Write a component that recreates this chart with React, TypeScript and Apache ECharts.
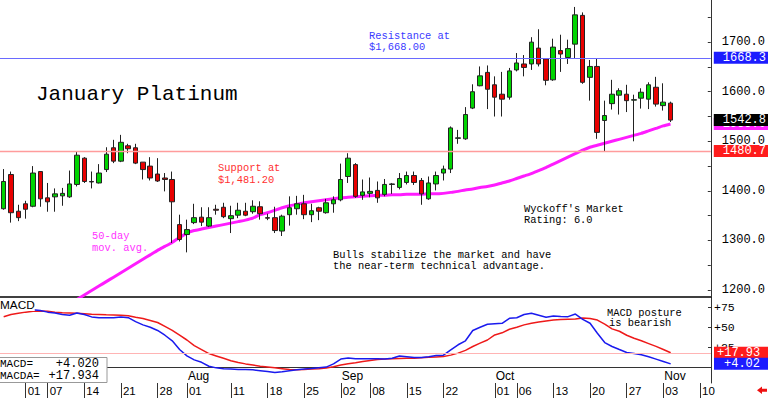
import React, { useEffect, useRef } from 'react';
import * as echarts from 'echarts';

const MONO = '"Liberation Mono", "DejaVu Sans Mono", monospace';
const SANS = '"Liberation Sans", Arial, sans-serif';

// trading days (2020), plus empty slots to the right edge
const dates = (
  '06-26 06-29 06-30 ' +
  '07-01 07-02 07-06 07-07 07-08 07-09 07-10 07-13 07-14 07-15 07-16 07-17 07-20 07-21 07-22 07-23 07-24 07-27 07-28 07-29 07-30 07-31 ' +
  '08-03 08-04 08-05 08-06 08-07 08-10 08-11 08-12 08-13 08-14 08-17 08-18 08-19 08-20 08-21 08-24 08-25 08-26 08-27 08-28 08-31 ' +
  '09-01 09-02 09-03 09-04 09-08 09-09 09-10 09-11 09-14 09-15 09-16 09-17 09-18 09-21 09-22 09-23 09-24 09-25 09-28 09-29 09-30 ' +
  '10-01 10-02 10-05 10-06 10-07 10-08 10-09 10-12 10-13 10-14 10-15 10-16 10-19 10-20 10-21 10-22 10-23 10-26 10-27 10-28 10-29 10-30 ' +
  '11-02 11-03 11-04 11-05 11-06 11-09 11-10 11-11'
).split(' ');

const dayTickDates = ['07-01', '07-07', '07-14', '07-21', '07-28', '08-03', '08-11', '08-18', '08-25', '09-01', '09-08', '09-15', '09-22', '10-01', '10-06', '10-13', '10-20', '10-27', '11-03', '11-10'];
const dayTickLabels = ['01', '07', '14', '21', '28', '01', '11', '18', '25', '02', '08', '15', '22', '01', '06', '13', '20', '27', '03', '10'];
const monthTickDates = ['08-03', '09-01', '10-01', '11-03'];
const monthTickLabels = ['Aug', 'Sep', 'Oct', 'Nov'];

const OPEN = [1364, 1433, 1359, 1374, 1369, 1439, 1386, 1388, 1390, 1388, 1413, 1466, 1419, 1416, 1443, 1487, 1460, 1491, 1487, 1458, 1450, 1434, 1426, 1423, 1332, 1312, 1336, 1347, 1329, 1363, 1367, 1344, 1351, 1359, 1358, 1368, 1346, 1346, 1319, 1352, 1364, 1374, 1352, 1366, 1356, 1374, 1382, 1429, 1453, 1391, 1395, 1401, 1393, 1413, 1407, 1417, 1431, 1421, 1384, 1414, 1436, 1444, 1506, 1505, 1567, 1612, 1639, 1614, 1595, 1589, 1644, 1656, 1656, 1688, 1666, 1624, 1683, 1669, 1696, 1754, 1629, 1651, 1542, 1576, 1593, 1595, 1583, 1587, 1585, 1609, 1572, 1577];
const CLOSE = [1419, 1356, 1346, 1363, 1436, 1384, 1378, 1394, 1395, 1414, 1472, 1419, 1418, 1436, 1474, 1460, 1498, 1485, 1456, 1443, 1426, 1420, 1423, 1378, 1302, 1322, 1346, 1337, 1346, 1361, 1348, 1350, 1361, 1351, 1369, 1354, 1345, 1320, 1349, 1366, 1374, 1352, 1360, 1359, 1376, 1382, 1423, 1466, 1389, 1398, 1399, 1386, 1413, 1414, 1425, 1431, 1417, 1394, 1416, 1431, 1444, 1527, 1507, 1554, 1600, 1632, 1605, 1589, 1585, 1642, 1658, 1649, 1700, 1656, 1623, 1690, 1676, 1687, 1755, 1619, 1651, 1518, 1552, 1595, 1602, 1582, 1584, 1599, 1614, 1575, 1579, 1542.8];
const LOW = [1362, 1336, 1339, 1344, 1367, 1368, 1358, 1358, 1370, 1386, 1409, 1416, 1405, 1415, 1438, 1456, 1458, 1476, 1454, 1423, 1421, 1418, 1399, 1295, 1298, 1276, 1333, 1329, 1327, 1352, 1345, 1315, 1345, 1349, 1354, 1342, 1341, 1315, 1309, 1330, 1352, 1343, 1337, 1341, 1354, 1356, 1379, 1416, 1386, 1382, 1387, 1376, 1389, 1394, 1403, 1413, 1412, 1372, 1382, 1401, 1421, 1436, 1495, 1503, 1565, 1611, 1565, 1550, 1550, 1584, 1641, 1631, 1644, 1651, 1613, 1622, 1640, 1656, 1668, 1616, 1582, 1505, 1480, 1564, 1554, 1559, 1500, 1566, 1565, 1570, 1562, 1539];
const HIGH = [1444, 1439, 1372, 1380, 1450, 1440, 1416, 1405, 1406, 1441, 1479, 1468, 1439, 1454, 1488, 1503, 1513, 1495, 1495, 1458, 1468, 1466, 1436, 1439, 1352, 1342, 1374, 1367, 1367, 1372, 1376, 1370, 1376, 1376, 1381, 1379, 1354, 1368, 1352, 1389, 1390, 1392, 1374, 1368, 1384, 1389, 1455, 1476, 1456, 1423, 1427, 1419, 1424, 1416, 1436, 1439, 1439, 1426, 1429, 1439, 1451, 1530, 1523, 1569, 1615, 1651, 1653, 1631, 1640, 1648, 1678, 1674, 1710, 1726, 1668, 1707, 1715, 1705, 1771, 1760, 1664, 1666, 1582, 1624, 1607, 1614, 1594, 1607, 1619, 1630, 1617, 1580];

const MA50 = [null, null, null, null, null, null, null, null, null,
  1172, 1181, 1190, 1199, 1208, 1217, 1226, 1235, 1244, 1253, 1262, 1271, 1280, 1288, 1296, 1306, 1315, 1320, 1323, 1326, 1329, 1332, 1335, 1338, 1341, 1345, 1352, 1356, 1361, 1366, 1370, 1373, 1376, 1378, 1380, 1382, 1384, 1386, 1387, 1388, 1389, 1390, 1391, 1391, 1392, 1392, 1393, 1393, 1393, 1394, 1394, 1395, 1397, 1399, 1402, 1404, 1407, 1409, 1412, 1416, 1420, 1425, 1430, 1435, 1441, 1447, 1454, 1461, 1468, 1475, 1482, 1488, 1492, 1496, 1500, 1504, 1508, 1512, 1516, 1521, 1526, 1531, 1535];

const MACD = [74, 75, 75, 74, 72, 71, 69, 68, 66, 65, 68, 66, 63, 62, 62, 62, 63, 62, 57, 53, 50, 46, 40, 33, 22, 14, 9, 6, 1, -1, -2, -2.5, -3, -3, -3.5, -4.5, -5.5, -6.7, -6, -4.6, -3.5, -2.5, -1.8, -1, 0, 4, 10, 11.5, 10.4, 10.4, 10.4, 10.4, 10, 11, 14, 13, 12, 12, 13, 14.5, 15, 21.6, 28, 33, 46, 50, 53.7, 54.5, 55, 61.2, 62, 66, 67.5, 65, 62.5, 64.2, 63.5, 63.3, 66.6, 60, 55, 42.5, 30.8, 25.8, 22, 18.3, 17, 15.4, 13, 10, 7, 4.02];
const MACDA = [63.3, 66, 67.5, 69, 70, 70.4, 70, 69, 68.3, 68, 67.5, 67, 66.2, 66, 65.7, 65.5, 65.2, 64.5, 62.5, 61, 58.5, 56, 51, 46, 40, 34, 27, 22, 17, 14, 11, 8, 5.8, 4, 2.5, 1, 0, -1, -2, -3, -3.3, -3, -2.5, -2, -1.2, 0.5, 2.5, 4.1, 5.5, 7, 8.3, 9.5, 10, 10.5, 10.8, 11, 11.2, 11.6, 12.2, 12.8, 13.3, 15, 17.5, 21, 25.8, 30, 34, 40.4, 43, 47.5, 50, 53, 55, 56.5, 58, 59.1, 59.8, 60.2, 60.4, 61.5, 61, 59, 54, 48, 45, 40, 36.2, 33, 29.5, 26, 22, 17.934];

const resistanceLevel = 1668.3;
const supportLevel = 1480.7;
const priceLabelValues = [1200, 1300, 1400, 1500, 1600, 1700];
const priceTickValues = [1200, 1250, 1300, 1350, 1400, 1450, 1500, 1550, 1600, 1650, 1700, 1750];
const macdLabelValues = [25, 50, 75];
const macdTickValues = [0, 25, 50, 75];

function txt(text: string, x: number, y: number, size: number, color: string, font = MONO, extra: any = {}) {
  return {
    type: 'text',
    x, y, z: 50,
    style: { text, fill: color, font: `${size}px ${font}`, verticalAlign: 'middle', align: 'left', ...extra },
    silent: true,
  };
}

const HIDDEN_LINE = { color: 'rgba(0,0,0,0)', width: 1, type: 'solid' };

export default function App() {
  const ref = useRef<HTMLDivElement>(null);
  useEffect(() => {
    if (!ref.current) return;
    const chart = echarts.init(ref.current, null, { renderer: 'svg' });
    const dayIdx = new Map<number, string>();
    dayTickDates.forEach((d, k) => dayIdx.set(dates.indexOf(d), dayTickLabels[k]));
    const monIdx = new Map<number, string>();
    monthTickDates.forEach((d, k) => monIdx.set(dates.indexOf(d), monthTickLabels[k]));
    const candles = OPEN.map((o, i) => [o, CLOSE[i], LOW[i], HIGH[i]]);
    const lastClose = CLOSE[CLOSE.length - 1];
    const lastMA = MA50[MA50.length - 1] as number;
    const lastMACD = MACD[MACD.length - 1];
    const lastMACDA = MACDA[MACDA.length - 1];
    const tagLabel = (bg: string, padLeft = 9) => ({
      show: true, position: 'end', distance: 3, color: '#fff', backgroundColor: bg,
      fontFamily: MONO, fontSize: 12, lineHeight: 12, padding: [0, 14, 0, padLeft],
      formatter: (p: any) => Number(p.value).toFixed(1),
    });
    const option: any = {
      animation: false,
      backgroundColor: '#ffffff',
      grid: [
        { left: 0, top: 0, width: 711, height: 296.5 },
        { left: 0, top: 297, width: 711, height: 86 },
        { left: 0, top: 383, width: 711, height: 15 },
      ],
      xAxis: [
        {
          type: 'category', data: dates, gridIndex: 0,
          axisLine: { show: true, lineStyle: { color: '#000', width: 1.5 } },
          axisTick: { show: false }, axisLabel: { show: false }, splitLine: { show: false },
        },
        {
          type: 'category', data: dates, gridIndex: 1,
          axisLine: { show: true, lineStyle: { color: '#333', width: 1 } },
          axisTick: { show: false },
          axisLabel: {
            interval: (i: number) => dayIdx.has(i),
            formatter: (_v: string, i: number) => dayIdx.get(i) || '',
            align: 'left', verticalAlign: 'top', margin: 2, padding: [0, 0, 0, 2],
            fontFamily: SANS, fontSize: 11.5, color: '#000',
          },
          splitLine: { show: false },
        },
        {
          type: 'category', data: dates, gridIndex: 1, position: 'bottom',
          axisLine: { show: false }, axisTick: { show: false },
          axisLabel: {
            inside: true,
            interval: (i: number) => monIdx.has(i),
            formatter: (_v: string, i: number) => monIdx.get(i) || '',
            align: 'left', verticalAlign: 'bottom', margin: 1, padding: [0, 0, 0, 1],
            fontFamily: SANS, fontSize: 12, color: '#000',
          },
          splitLine: { show: false },
        },
        {
          type: 'category', data: dates, gridIndex: 2, show: false,
        },
      ],
      yAxis: [
        {
          type: 'value', gridIndex: 0, position: 'right', min: 1187, max: 1785,
          axisLine: { show: true, lineStyle: { color: '#333' } },
          axisTick: { show: true, inside: true, length: 3, customValues: priceTickValues, lineStyle: { color: '#333' } },
          axisLabel: { customValues: priceLabelValues, formatter: (v: number) => v.toFixed(1), margin: 11, fontFamily: MONO, fontSize: 12, color: '#000' },
          splitLine: { show: false },
        },
        {
          type: 'value', gridIndex: 1, position: 'right', min: -20, max: 88,
          axisLine: { show: true, lineStyle: { color: '#333' } },
          axisTick: { show: true, inside: true, length: 3, customValues: macdTickValues, lineStyle: { color: '#333' } },
          axisLabel: { customValues: macdLabelValues, formatter: (v: number) => '+' + v, margin: 3, fontFamily: MONO, fontSize: 11.5, color: '#000' },
          splitLine: { show: false },
        },
        { type: 'value', gridIndex: 2, min: 0, max: 1, show: false },
      ],
      series: [
        {
          type: 'candlestick', xAxisIndex: 0, yAxisIndex: 0, data: candles, barWidth: 5,
          itemStyle: { color: '#00d400', color0: '#e80000', borderColor: '#222', borderColor0: '#222', borderWidth: 1 },
          markLine: {
            silent: true, symbol: ['none', 'none'], animation: false,
            data: [
              { yAxis: resistanceLevel, lineStyle: { color: '#6a6aff', width: 1, type: 'solid' }, label: tagLabel('#1c1cff') },
              { yAxis: supportLevel, lineStyle: { color: '#ff9c9c', width: 1.3, type: 'solid' }, label: tagLabel('#ff1c1c') },
              { yAxis: lastMA, lineStyle: HIDDEN_LINE, label: tagLabel('#ff22ff') },
              { yAxis: lastClose, lineStyle: HIDDEN_LINE, label: tagLabel('#000000') },
            ],
          },
          z: 3,
        },
        {
          type: 'line', xAxisIndex: 0, yAxisIndex: 0, data: MA50, symbol: 'none', smooth: 0.2,
          lineStyle: { color: '#ff1cff', width: 3 }, z: 2,
        },
        {
          type: 'line', xAxisIndex: 1, yAxisIndex: 1, data: MACDA, symbol: 'none',
          lineStyle: { color: '#ee1a1a', width: 1.5 }, z: 3,
          markLine: {
            silent: true, symbol: ['none', 'none'], animation: false,
            data: [{
              yAxis: lastMACDA, lineStyle: { color: '#ffb4b4', width: 1, type: 'solid' },
              label: { ...tagLabel('#ff1c1c', 3), formatter: (p: any) => '+' + Number(p.value).toFixed(2) },
            }],
          },
        },
        {
          type: 'line', xAxisIndex: 1, yAxisIndex: 1, data: MACD, symbol: 'none',
          lineStyle: { color: '#1a1aee', width: 1.5 }, z: 4,
          markLine: {
            silent: true, symbol: ['none', 'none'], animation: false,
            data: [{
              yAxis: lastMACD, lineStyle: HIDDEN_LINE,
              label: { ...tagLabel('#1c1cff', 10), formatter: (p: any) => '+' + Number(p.value).toFixed(2) },
            }],
          },
        },
        {
          // date-strip tick marks
          type: 'line', xAxisIndex: 3, yAxisIndex: 2, data: [], symbol: 'none',
          markLine: {
            silent: true, symbol: ['none', 'none'], animation: false,
            lineStyle: { color: '#333', width: 1, type: 'solid' },
            label: { show: false },
            data: dayTickDates.map((d) => ({ xAxis: d })),
          },
        },
      ],
      graphic: [
        txt('January Platinum', 36, 94, 21, '#000'),
        txt('Resistance at', 369, 36, 10.4, '#3a3aff'),
        txt('$1,668.00', 369, 46.5, 10.4, '#3a3aff'),
        txt('Support at', 218, 168, 10.4, '#ff3030'),
        txt('$1,481.20', 218, 179.5, 10.4, '#ff3030'),
        txt('50-day', 92, 236, 10.4, '#ff33ff'),
        txt('mov. avg.', 92, 247.5, 10.4, '#ff33ff'),
        txt('Bulls stabilize the market and have', 333, 254.5, 10.4, '#000'),
        txt('the near-term technical advantage.', 333, 265.5, 10.4, '#000'),
        txt("Wyckoff's Market", 524, 208.5, 10.4, '#000'),
        txt('Rating: 6.0', 524, 219.5, 10.4, '#000'),
        txt('MACD posture', 607, 312.5, 10.4, '#000'),
        txt('is bearish', 609, 323, 10.4, '#000'),
        txt('MACD', 0, 305, 11.8, '#000', SANS, { backgroundColor: '#fff' }),
        {
          type: 'rect', z: 49, silent: true,
          shape: { x: -1, y: 357.5, width: 108, height: 25 },
          style: { fill: '#fff', stroke: '#999', lineWidth: 1 },
        },
        txt('MACD=', 0, 363.5, 11, '#000'),
        txt('+' + lastMACD.toFixed(3), 99, 363.5, 12, '#000', MONO, { align: 'right' }),
        txt('MACDA=', 0, 375.5, 11, '#000'),
        txt('+' + lastMACDA.toFixed(3), 99, 375.5, 12, '#000', MONO, { align: 'right' }),
        {
          type: 'polygon', z: 50, silent: true,
          shape: { points: [[757, 390.3], [762, 386.5], [762, 388.8], [767, 388.8], [767, 391.8], [762, 391.8], [762, 394]] },
          style: { fill: '#ee1111' },
        },
      ],
    };
    chart.setOption(option);
    return () => chart.dispose();
  }, []);
  return <div ref={ref} style={{ position: 'fixed', left: 0, top: 0, width: 768, height: 398 }} />;
}
